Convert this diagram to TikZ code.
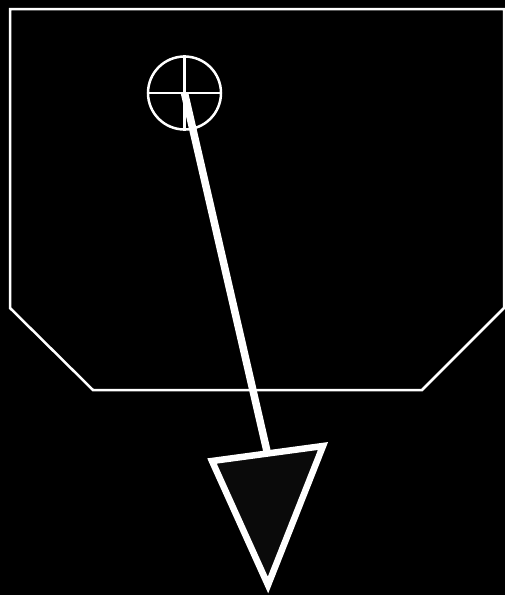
\documentclass[tikz,border=0pt]{standalone}
\usepackage{tikz}
\usetikzlibrary{arrows.meta}
\tikzset{
  every picture/.style={line join=miter, line cap=butt},
  outline/.style={draw=white, line width=2.5pt},
  hair/.style={draw=white, line width=2.5pt},
  rod/.style={draw=white, line width=7.5pt},
  tip/.style={draw=white, fill=black!96, line width=6.5pt, line join=miter},
}

\begin{document}
\begin{tikzpicture}[x=1pt,y=-1pt]
\fill[black](0,0) rectangle (505,595);
\useasboundingbox (0,0) rectangle (505,595);
\draw[outline](10,9)--(504,9)--(504,308)--(422,390)--(93,390)--(10,308)--cycle;
\node[circle,hair,minimum size=73pt,inner sep=0pt] (pivot) at (184.5,93) {};
\draw[hair](pivot.north)--(pivot.south);
\draw[hair](pivot.west)--(pivot.east);
\coordinate (tl) at (212,461);
\coordinate (tr) at (323,446);
\coordinate (tb) at (268,585);
\coordinate (base) at (267.5,453.5);
\draw[rod](pivot.center)--(base);
\draw[tip](tl)--(tr)--(tb)--cycle;
\end{tikzpicture}
\end{document}
